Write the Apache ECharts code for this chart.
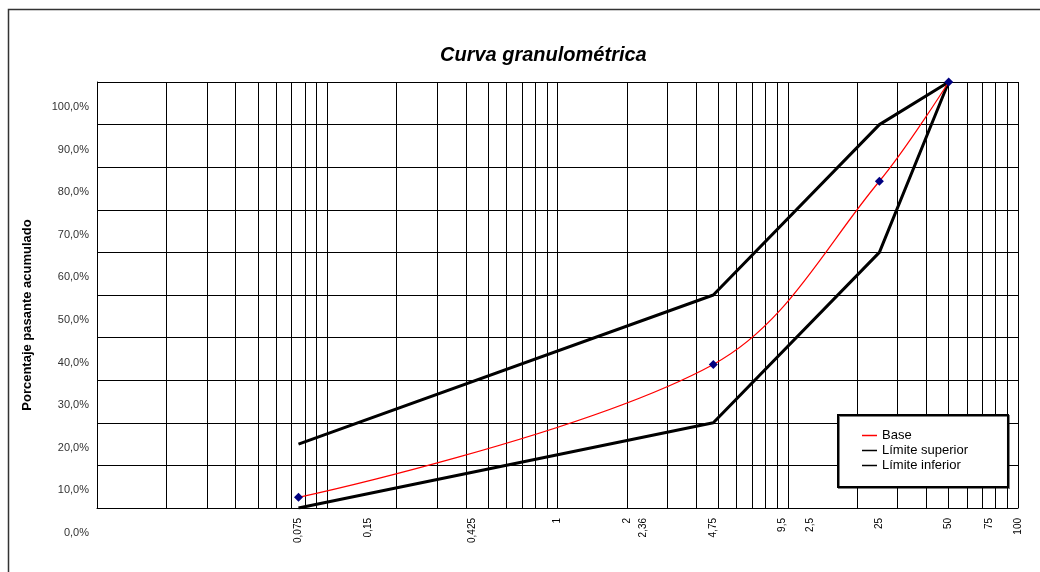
<!DOCTYPE html>
<html>
<head>
<meta charset="utf-8">
<script src="https://cdn.jsdelivr.net/npm/echarts@6/dist/echarts.min.js"></script>
<style>
  html, body { margin: 0; padding: 0; background: #fff; }
  #main { width: 1040px; height: 572px; }
</style>
</head>
<body>
<div id="main"></div>
<script>
// abertura de tamices (mm) y % pasante
var tamices = [0.075, 4.75, 25, 50];
var base = [2.5, 33.7, 76.7, 100];
var limiteSuperior = [15, 50, 90, 100];
var limiteInferior = [0, 20, 60, 100];

// etiquetas del eje x (tal como se ven)
var etiquetasX = [0.075, 0.15, 0.425, 1, 2, 2.36, 4.75, 9.5, 12.5, 25, 50, 75, 100];
var textosX = ["0,075", "0,15", "0,425", "1", "2", "2,36", "4,75", "9,5", "2,5", "25", "50", "75", "100"];

// lineas verticales de la grilla logaritmica
var lineasX = [];
for (var d = 0.01; d < 50; d *= 10) {
  for (var k = 1; k < 10; k++) {
    lineasX.push(+(d * k).toPrecision(3));
  }
}
lineasX.push(100);

function par(xs, ys) {
  return xs.map(function (x, i) { return [x, ys[i]]; });
}

var myChart = echarts.init(document.getElementById("main"));
var option = {
  animation: false,
  backgroundColor: "#fff",
  textStyle: { fontFamily: "Liberation Sans, Arial, sans-serif" },
  title: {
    text: "Curva granulométrica",
    left: 440,
    top: 45,
    padding: 0,
    textStyle: { fontSize: 20, fontStyle: "italic", fontWeight: "bold", color: "#000" }
  },
  graphic: [
    {
      type: "rect",
      shape: { x: 8.5, y: 9.5, width: 1200, height: 800 },
      style: { fill: "none", stroke: "#333", lineWidth: 1.5 },
      silent: true
    }
  ],
  legend: {
    orient: "vertical",
    left: 838,
    top: 415,
    padding: [14, 40, 15, 24],
    itemGap: 2,
    itemWidth: 15,
    itemHeight: 1.5,
    icon: "rect",
    backgroundColor: "#fff",
    borderColor: "#000",
    borderWidth: 2,
    shadowColor: "rgba(0,0,0,0.5)",
    shadowOffsetX: 1,
    shadowOffsetY: 1,
    shadowBlur: 0,
    textStyle: { fontSize: 13, color: "#000" },
    data: [
      { name: "Base", itemStyle: { color: "#ff0000" } },
      { name: "Límite superior", itemStyle: { color: "#000" } },
      { name: "Límite inferior", itemStyle: { color: "#000" } }
    ]
  },
  grid: { left: 97, right: 22, top: 82, bottom: 64 },
  xAxis: {
    type: "log",
    logBase: 10,
    min: 0.01,
    max: 100,
    axisLine: { show: true, lineStyle: { color: "#000", width: 1 } },
    splitLine: { show: false },
    axisTick: {
      show: true,
      inside: true,
      length: 426,
      customValues: lineasX,
      lineStyle: { color: "#000", width: 1 }
    },
    axisLabel: {
      customValues: etiquetasX,
      rotate: 90,
      margin: 10,
      fontSize: 10,
      color: "#000",
      formatter: function (v) {
        for (var i = 0; i < etiquetasX.length; i++) {
          if (Math.abs(etiquetasX[i] - v) < 1e-6 * etiquetasX[i]) return textosX[i];
        }
        return "";
      }
    }
  },
  yAxis: {
    type: "value",
    min: 0,
    max: 100,
    interval: 10,
    name: "Porcentaje pasante acumulado",
    nameLocation: "middle",
    nameGap: 63,
    nameTextStyle: { fontSize: 13, fontWeight: "bold", color: "#000", padding: [0, 40, 0, 0] },
    axisLine: { show: true, lineStyle: { color: "#000", width: 1 } },
    axisTick: { show: false },
    splitLine: { show: true, lineStyle: { color: "#000", width: 1 } },
    axisLabel: {
      margin: 8,
      verticalAlign: "top",
      showMinLabel: true,
      showMaxLabel: true,
      formatter: function (v) {
        return "{s| }\n{t|" + v.toFixed(1).replace(".", ",") + "%}";
      },
      rich: {
        s: { fontSize: 11, lineHeight: 19 },
        t: { fontSize: 11, lineHeight: 12, color: "#333" }
      }
    }
  },
  series: [
    {
      name: "Límite superior",
      type: "line",
      data: par(tamices, limiteSuperior),
      showSymbol: false,
      symbol: "none",
      lineStyle: { color: "#000", width: 3 },
      itemStyle: { color: "#000" },
      z: 2
    },
    {
      name: "Límite inferior",
      type: "line",
      data: par(tamices, limiteInferior),
      showSymbol: false,
      symbol: "none",
      lineStyle: { color: "#000", width: 3 },
      itemStyle: { color: "#000" },
      z: 2
    },
    {
      name: "Base",
      type: "line",
      data: par(tamices, base),
      smooth: 0.35,
      symbol: "diamond",
      symbolSize: 9,
      lineStyle: { color: "#ff0000", width: 1.2 },
      itemStyle: { color: "#000080" },
      z: 3
    }
  ]
};
myChart.setOption(option);
</script>
</body>
</html>
